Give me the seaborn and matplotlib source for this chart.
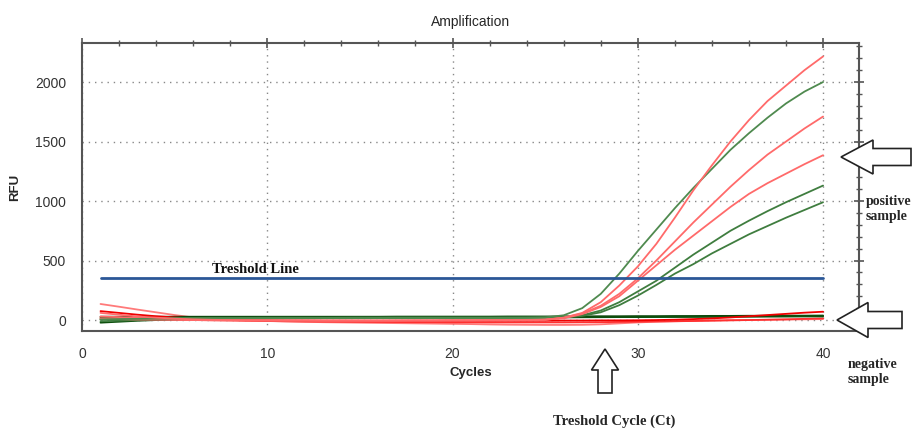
import numpy as np
import pandas as pd
import matplotlib
matplotlib.use('Agg')
import matplotlib.pyplot as plt
from matplotlib.patches import FancyArrow
from matplotlib.ticker import MultipleLocator
import seaborn as sns

# Data (RFU per cycle)
cycles = list(range(1, 41))

red_pos1 = [60, 45, 30, 20, 12, 6, 2, 0, -2, -3, -4, -4, -5, -5, -5, -5, -5, -4, -4, -3,
            -3, -2, -1, 0, 2, 20, 60, 150, 290, 450, 640, 860, 1090, 1300, 1500, 1680, 1840, 1970, 2100, 2215]
red_pos2 = [30, 25, 18, 12, 8, 4, 2, 0, -1, -2, -3, -3, -3, -3, -3, -3, -2, -2, -2, -1,
            -1, 0, 0, 2, 5, 20, 55, 120, 220, 350, 500, 660, 820, 970, 1120, 1260, 1390, 1500, 1610, 1710]
red_pos3 = [10, 8, 5, 3, 2, 0, -1, -2, -3, -4, -5, -5, -6, -6, -6, -6, -6, -5, -5, -4,
            -4, -3, -2, 0, 3, 15, 50, 110, 200, 330, 460, 590, 710, 830, 950, 1060, 1150, 1230, 1310, 1385]
green_pos1 = [5, 8, 10, 12, 13, 14, 15, 15, 16, 16, 16, 17, 17, 17, 17, 17, 18, 18, 18, 18,
              18, 18, 19, 19, 22, 40, 100, 220, 390, 580, 760, 940, 1110, 1270, 1430, 1570, 1700, 1820, 1920, 2000]
green_pos2 = [-10, -5, 0, 4, 8, 10, 12, 14, 15, 16, 17, 18, 18, 19, 19, 19, 20, 20, 20, 20,
              20, 20, 20, 21, 22, 25, 40, 80, 150, 240, 330, 440, 550, 650, 750, 835, 915, 990, 1060, 1130]
green_pos3 = [15, 16, 17, 17, 18, 18, 19, 19, 19, 20, 20, 20, 20, 20, 21, 21, 21, 21, 21, 21,
              21, 21, 21, 21, 21, 22, 35, 65, 125, 205, 295, 390, 470, 560, 640, 720, 790, 860, 925, 990]

red_neg1 = [75, 60, 45, 32, 22, 14, 8, 4, 0, -2, -4, -5, -6, -6, -7, -7, -7, -7, -7, -6,
            -6, -6, -5, -5, -5, -4, -4, -3, -3, -2, 0, 3, 8, 14, 22, 32, 42, 52, 62, 70]
red_neg2 = [135, 112, 88, 65, 42, 22, 10, 2, -4, -8, -12, -15, -18, -20, -22, -24, -26, -28, -30, -32,
            -34, -37, -39, -40, -41, -41, -40, -36, -28, -20, -14, -10, -7, -4, -2, 0, 2, 4, 6, 8]
red_neg3 = [20, 15, 10, 6, 3, 0, -2, -4, -6, -8, -10, -12, -13, -14, -15, -16, -17, -18, -18, -19,
            -19, -20, -20, -20, -20, -20, -19, -18, -16, -14, -12, -10, -8, -5, -2, 0, 3, 6, 10, 14]
green_neg1 = [-22, -14, -6, 0, 5, 9, 12, 15, 17, 18, 19, 20, 20, 21, 21, 21, 22, 22, 22, 22,
              22, 22, 23, 23, 23, 23, 24, 24, 25, 25, 26, 27, 28, 29, 30, 31, 32, 33, 33, 34]
green_neg2 = [5, 8, 10, 12, 14, 16, 17, 18, 19, 20, 20, 21, 21, 21, 22, 22, 22, 22, 23, 23,
              23, 23, 23, 24, 24, 24, 24, 25, 25, 25, 26, 26, 27, 27, 28, 28, 29, 29, 30, 30]
green_neg3 = [28, 28, 28, 28, 28, 28, 28, 28, 28, 28, 28, 28, 28, 28, 28, 28, 29, 29, 29, 29,
              29, 29, 30, 30, 30, 31, 31, 32, 32, 33, 33, 34, 34, 35, 35, 36, 36, 37, 37, 38]

threshold = 350

series = {
    'red_neg2': red_neg2, 'red_neg3': red_neg3,
    'green_neg2': green_neg2, 'green_neg3': green_neg3, 'green_neg1': green_neg1,
    'red_neg1': red_neg1,
    'green_pos3': green_pos3, 'green_pos2': green_pos2,
    'red_pos3': red_pos3, 'red_pos2': red_pos2,
    'green_pos1': green_pos1, 'red_pos1': red_pos1,
}
colors = {
    'red_pos1': '#ff6a6a', 'red_pos2': '#ff6a6a', 'red_pos3': '#ff6a6a',
    'green_pos1': '#4f8a4f', 'green_pos2': '#3f7d3f', 'green_pos3': '#3f7d3f',
    'red_neg1': '#ee0000', 'red_neg2': '#ff7a7a', 'red_neg3': '#ff3030',
    'green_neg1': '#0d4f0d', 'green_neg2': '#1f621f', 'green_neg3': '#0a450a',
}

df = pd.concat([pd.DataFrame({'cycle': cycles, 'rfu': v, 'well': k}) for k, v in series.items()])

sns.set_style('white')
plt.rcParams['font.family'] = ['Liberation Sans', 'DejaVu Sans']

fig = plt.figure(figsize=(9.17, 4.30), dpi=100)
ax = fig.add_axes([82 / 917, 1 - 331 / 430, 777 / 917, 288 / 430])

sns.lineplot(data=df, x='cycle', y='rfu', hue='well', palette=colors,
             hue_order=list(series.keys()), linewidth=1.3, legend=False, ax=ax)
ax.plot([cycles[0], cycles[-1]], [threshold, threshold], color='#2b5797', lw=2.0)

ax.set_xlim(0, 41.94)
ax.set_ylim(-92, 2328)
ax.xaxis.set_major_locator(MultipleLocator(10))
ax.xaxis.set_minor_locator(MultipleLocator(2))
ax.yaxis.set_major_locator(MultipleLocator(500))
ax.yaxis.set_minor_locator(MultipleLocator(100))
ax.grid(True, which='major', color='#888888', linestyle=(0, (1, 3.5)), linewidth=1.0)
ax.tick_params(which='both', direction='inout', top=True, right=True,
               colors='#555555', labelcolor='#333333', labelsize=10)
ax.tick_params(which='major', length=7, width=1.2, pad=8)
ax.tick_params(which='minor', length=4, width=1.0)
for s in ax.spines.values():
    s.set_color('#555555')
    s.set_linewidth(1.5)

ax.set_xlabel('Cycles', fontsize=9.5, fontweight='bold', labelpad=4)
ax.set_ylabel('RFU', fontsize=9.5, fontweight='bold', labelpad=10)
ax.set_title('Amplification', fontsize=10, pad=12)

serif = ['Liberation Serif', 'DejaVu Serif']
ax.text(7.0, 395, 'Treshold Line', fontsize=10.5, fontweight='bold', family=serif, color='#111111')
fig.text(866 / 917, 1 - 209 / 430, 'positive\nsample', fontsize=10, fontweight='bold',
         family=serif, va='center', linespacing=1.2)
fig.text(848 / 917, 1 - 372 / 430, 'negative\nsample', fontsize=10, fontweight='bold',
         family=serif, va='center', linespacing=1.2)
fig.text(614 / 917, 1 - 421 / 430, 'Treshold Cycle (Ct)', fontsize=10.5, fontweight='bold',
         family=serif, ha='center', va='center')

# hollow block arrows (in inches from bottom-left)
arrow_kw = dict(length_includes_head=True, fc='white', ec='#222222', lw=1.2,
                transform=fig.dpi_scale_trans, zorder=10)
fig.patches.append(FancyArrow(9.11, 4.30 - 1.57, -0.70, 0, width=0.17, head_width=0.34,
                              head_length=0.32, **arrow_kw))
fig.patches.append(FancyArrow(9.02, 4.30 - 3.20, -0.65, 0, width=0.17, head_width=0.35,
                              head_length=0.31, **arrow_kw))
fig.patches.append(FancyArrow(6.05, 4.30 - 3.93, 0, 0.44, width=0.14, head_width=0.27,
                              head_length=0.21, **arrow_kw))

fig.savefig('out.png', dpi=100)
